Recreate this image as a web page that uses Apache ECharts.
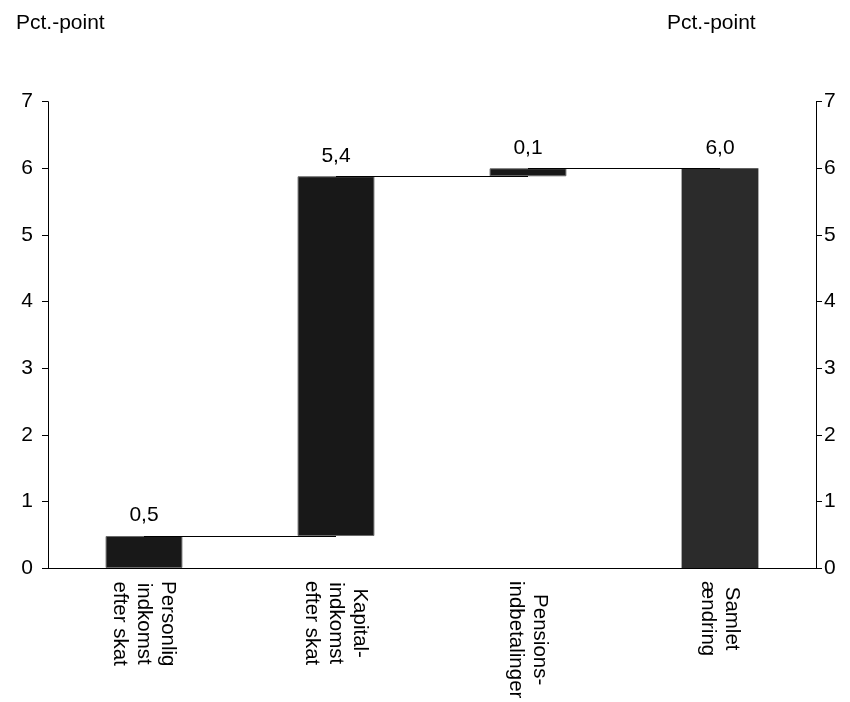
<!DOCTYPE html>
<html>
<head>
<meta charset="utf-8">
<script src="https://cdn.jsdelivr.net/npm/echarts@6/dist/echarts.min.js"></script>
<style>
html,body{margin:0;padding:0;background:#fff;}
#chart{width:850px;height:702px;}
</style>
</head>
<body>
<div id="chart"></div>
<script>
var categories = ['Personlig\nindkomst\nefter skat', 'Kapital-\nindkomst\nefter skat', 'Pensions-\nindbetalinger', 'Samlet\nændring'];
var increments = [0.48, 5.40, 0.12];
var total = 6.0;
var yTicks = [0, 7, 1]; // min, max, interval
var unitLabel = 'Pct.-point';

var FONT = "'Liberation Sans', Arial, sans-serif";

// Derived waterfall values
var bases = [];
var levels = [];
var acc = 0;
for (var i = 0; i < increments.length; i++) {
  bases.push(acc);
  acc += increments[i];
  levels.push(acc);
}
bases.push(0);
var visible = increments.concat([total]);
var labelValues = increments.concat([total]);

var barData = visible.map(function (v, i) {
  var last = i === visible.length - 1;
  return {
    value: v,
    itemStyle: last
      ? { color: '#2b2b2b', borderWidth: 0 }
      : { color: '#181818', borderColor: '#6a6a6a', borderWidth: 1 }
  };
});

var connectors = [];
for (var j = 0; j < levels.length; j++) {
  var lvl = j < levels.length - 1 ? levels[j] : total;
  connectors.push([{ coord: [j, lvl] }, { coord: [j + 1, lvl] }]);
}

function fmt(v) { return v.toFixed(1).replace('.', ','); }

var chart = echarts.init(document.getElementById('chart'), null, { renderer: 'canvas' });
var yAxisCommon = {
  type: 'value',
  min: yTicks[0], max: yTicks[1], interval: yTicks[2],
  axisLine: { show: true, lineStyle: { color: '#000', width: 1 } },
  axisTick: { show: true, inside: false, length: 6, lineStyle: { color: '#000' } },
  splitLine: { show: false },
  axisLabel: { color: '#000', fontSize: 21, fontFamily: FONT }
};
chart.setOption({
  animation: false,
  backgroundColor: '#fff',
  textStyle: { fontFamily: FONT },
  graphic: [
    { type: 'text', left: 16, top: 13, style: { text: unitLabel, fontSize: 21, fontFamily: FONT, fill: '#000' } },
    { type: 'text', left: 667, top: 13, style: { text: unitLabel, fontSize: 21, fontFamily: FONT, fill: '#000' } }
  ],
  grid: { left: 48, right: 34, top: 101.7, bottom: 134, containLabel: false },
  xAxis: {
    type: 'category',
    data: categories,
    axisLine: { show: true, lineStyle: { color: '#000', width: 1 } },
    axisTick: { show: false },
    axisLabel: {
      rotate: -90,
      margin: 13,
      interval: 0,
      color: '#000',
      formatter: function (v) {
        return v.split('\n').map(function (l) { return '{c|' + l + '}'; }).join('\n');
      },
      rich: { c: { align: 'center', fontSize: 20.5, lineHeight: 24, fontFamily: FONT, color: '#000' } }
    }
  },
  yAxis: [
    Object.assign({}, yAxisCommon, { position: 'left', axisLabel: Object.assign({}, yAxisCommon.axisLabel, { margin: 15 }) }),
    Object.assign({}, yAxisCommon, { position: 'right', axisLabel: Object.assign({}, yAxisCommon.axisLabel, { margin: 8 }) })
  ],
  series: [
    {
      type: 'bar', stack: 'w', barWidth: '40%',
      itemStyle: { color: 'transparent' },
      data: bases,
      silent: true
    },
    {
      type: 'bar', stack: 'w', barWidth: '40%',
      data: barData,
      label: {
        show: true, position: 'top', distance: 10,
        color: '#000', fontSize: 21, fontFamily: FONT,
        formatter: function (p) { return fmt(labelValues[p.dataIndex]); }
      },
      markLine: {
        silent: true,
        symbol: 'none',
        label: { show: false },
        lineStyle: { color: '#000', width: 1, type: 'solid' },
        data: connectors
      }
    }
  ]
});
</script>
</body>
</html>
